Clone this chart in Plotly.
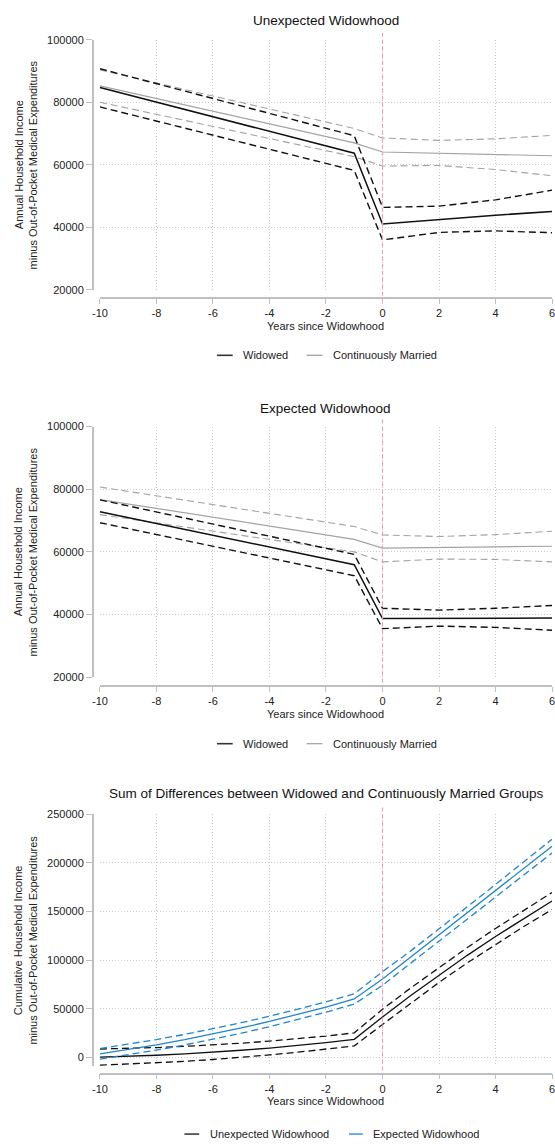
import plotly.graph_objects as go

W, H = 555, 1146

# ---------------- data ----------------
YEARS_P = [-10, -1, 0, 2, 4, 6]

# Panel 1: Unexpected widowhood
U_WID = [84700, 63700, 41100, 42600, 43900, 45100]
U_WID_HI = [90700, 69300, 46400, 46800, 48800, 51900]
U_WID_LO = [78500, 58200, 36000, 38400, 38900, 38300]
U_MAR = [85200, 67000, 64100, 63700, 63300, 62900]
U_MAR_HI = [90300, 71600, 68600, 67800, 68300, 69400]
U_MAR_LO = [80000, 62600, 59600, 59800, 58500, 56500]

# Panel 2: Expected widowhood
E_WID = [72800, 55900, 38700, 38700, 38800, 38900]
E_WID_HI = [76600, 59200, 42000, 41400, 42000, 42900]
E_WID_LO = [69300, 52400, 35500, 36300, 35900, 35000]
E_MAR = [76700, 64000, 61200, 61300, 61600, 61800]
E_MAR_HI = [80700, 68100, 65400, 64900, 65500, 66600]
E_MAR_LO = [71900, 60000, 56800, 57700, 57600, 56800]

# Panel 3: cumulative differences
YEARS_C = [-10, -9, -8, -7, -6, -5, -4, -3, -2, -1, 0, 1, 2, 3, 4, 5, 6]
C_UNEXP = [500, 1300, 2400, 3800, 5500, 7500, 9800, 12400, 15400, 18700, 41700, 63700, 84800, 105000, 124400, 143000, 160800]
C_UNEXP_HI = [8800, 9400, 10300, 11500, 13000, 14800, 16900, 19300, 22100, 25400, 49600, 71500, 92500, 113000, 132600, 151500, 169600]
C_UNEXP_LO = [-7900, -6800, -5500, -3900, -2000, 200, 2700, 5500, 8700, 12000, 34000, 56000, 77200, 97200, 116300, 134600, 152100]
C_EXP = [3900, 8300, 13100, 18400, 24200, 30400, 37100, 44300, 51900, 60200, 80700, 103300, 125900, 148600, 171400, 194200, 217100]
C_EXP_HI = [9300, 13700, 18500, 23800, 29600, 35800, 42400, 49600, 57200, 65400, 88200, 109600, 132000, 154800, 177800, 200900, 224200]
C_EXP_LO = [-1600, 2900, 7700, 13000, 18800, 25000, 31800, 39000, 46600, 54900, 74200, 97000, 119800, 142400, 165000, 187500, 210000]

X_TICKS = [-10, -8, -6, -4, -2, 0, 2, 4, 6]
X_TICK_LABELS = ["-10", "-8", "-6", "-4", "-2", "0", "2", "4", "6"]
Y_TICKS_12 = [20000, 40000, 60000, 80000, 100000]
Y_TICKS_3 = [0, 50000, 100000, 150000, 200000, 250000]

TITLES = ["Unexpected Widowhood", "Expected Widowhood",
          "Sum of Differences between Widowed and Continuously Married Groups"]
YT_A = ["Annual Household Income", "Annual Household Income", "Cumulative Household Income"]
YT_B = "minus Out-of-Pocket Medical Expenditures"
XTITLE = "Years since Widowhood"

# ---------------- styling ----------------
FONT = "Liberation Sans, Arial, sans-serif"
BLACK = "#111111"
GRAY = "#a3a3a3"
BLUE = "#1f86cc"
AXC = "#bfbfbf"
GRIDC = "#cccccc"
PINK = "#e3a3c4"
DASH = "7px,4px"
TXT = "#222222"

def px(x):
    return x / W

def py(y):
    return 1 - y / H

# panel geometry (pixels)
PLOT_L, PLOT_R = 93.3, 552
YAX_X = 86
panels = [
    dict(top=34, bot=287, axis=295, title=15, xt=323, leg=353, vtop=27, yrange=[20000, 100000], ticks=Y_TICKS_12),
    dict(top=425, bot=678.3, axis=687, title=407, xt=715, leg=745.5, vtop=418, yrange=[20000, 100000], ticks=Y_TICKS_12),
    dict(top=816.7, bot=1071, axis=1079, title=796, xt=1107, leg=1140, vtop=810, yrange=[-8435, 250000], ticks=Y_TICKS_3),
]

fig = go.Figure()

def add_line(i, x, y, color, width, dash=None):
    sfx = "" if i == 0 else str(i + 1)
    fig.add_trace(go.Scatter(
        x=x, y=y, mode="lines", xaxis="x" + sfx, yaxis="y" + sfx,
        line=dict(color=color, width=width, dash=dash), showlegend=False, hoverinfo="skip"))

# panel 1
add_line(0, YEARS_P, U_MAR_HI, GRAY, 1.1, DASH)
add_line(0, YEARS_P, U_MAR_LO, GRAY, 1.1, DASH)
add_line(0, YEARS_P, U_MAR, GRAY, 1.2)
add_line(0, YEARS_P, U_WID_HI, BLACK, 1.4, DASH)
add_line(0, YEARS_P, U_WID_LO, BLACK, 1.4, DASH)
add_line(0, YEARS_P, U_WID, BLACK, 1.5)
# panel 2
add_line(1, YEARS_P, E_MAR_HI, GRAY, 1.1, DASH)
add_line(1, YEARS_P, E_MAR_LO, GRAY, 1.1, DASH)
add_line(1, YEARS_P, E_MAR, GRAY, 1.2)
add_line(1, YEARS_P, E_WID_HI, BLACK, 1.4, DASH)
add_line(1, YEARS_P, E_WID_LO, BLACK, 1.4, DASH)
add_line(1, YEARS_P, E_WID, BLACK, 1.5)
# panel 3
add_line(2, YEARS_C, C_UNEXP_HI, BLACK, 1.3, DASH)
add_line(2, YEARS_C, C_UNEXP_LO, BLACK, 1.3, DASH)
add_line(2, YEARS_C, C_UNEXP, BLACK, 1.3)
add_line(2, YEARS_C, C_EXP_HI, BLUE, 1.3, DASH)
add_line(2, YEARS_C, C_EXP_LO, BLUE, 1.3, DASH)
add_line(2, YEARS_C, C_EXP, BLUE, 1.3)

layout = dict(
    width=W, height=H, margin=dict(l=0, r=0, t=0, b=0),
    paper_bgcolor="white", plot_bgcolor="white",
    font=dict(family=FONT, size=11, color=TXT),
    showlegend=False,
)
shapes = []
annotations = []
for i, p in enumerate(panels):
    sfx = "" if i == 0 else str(i + 1)
    layout["xaxis" + sfx] = dict(
        domain=[px(PLOT_L), px(PLOT_R)], range=[-10, 6], anchor="free", position=py(p["axis"]),
        tickvals=X_TICKS, ticktext=X_TICK_LABELS[:-1] + [""], ticks="outside", ticklen=5,
        tickwidth=1.2, tickcolor=AXC,
        showline=True, linecolor=AXC, linewidth=1.5,
        showgrid=True, gridcolor=GRIDC, griddash="1px,2px", gridwidth=1,
        zeroline=False, tickfont=dict(size=11, color=TXT, family=FONT),
        fixedrange=True,
    )
    # last tick label (sits at the very edge of the page, drawn as annotation)
    annotations.append(dict(text=X_TICK_LABELS[-1], xref="x" + sfx, yref="paper",
                            x=X_TICKS[-1], y=py(p["axis"] + 15), xanchor="center",
                            yanchor="middle", showarrow=False,
                            font=dict(size=11, color=TXT, family=FONT)))
    layout["yaxis" + sfx] = dict(
        domain=[py(p["bot"]), py(p["top"])], range=p["yrange"], anchor="free", position=px(YAX_X),
        tickvals=p["ticks"], ticktext=[str(v) for v in p["ticks"]], ticks="outside", ticklen=6,
        tickwidth=1.2, tickcolor=AXC,
        showline=True, linecolor=AXC, linewidth=1.5,
        showgrid=True, gridcolor=GRIDC, griddash="1px,2px", gridwidth=1,
        zeroline=False, tickfont=dict(size=11, color=TXT, family=FONT),
        fixedrange=True,
    )
    # vertical reference line at 0
    shapes.append(dict(type="line", xref="x" + sfx, yref="paper", x0=0, x1=0,
                       y0=py(p["vtop"]), y1=py(p["axis"]),
                       line=dict(color=PINK, width=1.2, dash="4px,3px")))
    # title
    annotations.append(dict(text=TITLES[i], xref="paper", yref="paper",
                            x=px((PLOT_L + PLOT_R) / 2), y=py(p["title"]),
                            xanchor="center", yanchor="middle", showarrow=False,
                            font=dict(size=13.5, color="#111111", family=FONT)))
    # x title
    annotations.append(dict(text=XTITLE, xref="paper", yref="paper",
                            x=px((PLOT_L + PLOT_R) / 2), y=py(p["xt"]),
                            xanchor="center", yanchor="middle", showarrow=False,
                            font=dict(size=11, color=TXT, family=FONT)))
    # y title (two rotated lines)
    yc = (p["top"] + p["bot"]) / 2
    annotations.append(dict(text=YT_A[i], xref="paper", yref="paper",
                            x=px(10.5), y=py(yc), xanchor="center", yanchor="middle",
                            textangle=-90, showarrow=False,
                            font=dict(size=11, color=TXT, family=FONT)))
    annotations.append(dict(text=YT_B, xref="paper", yref="paper",
                            x=px(25), y=py(yc), xanchor="center", yanchor="middle",
                            textangle=-90, showarrow=False,
                            font=dict(size=11, color=TXT, family=FONT)))

# legends (drawn manually)
def legend_item(x0, x1, y, color, label, width):
    shapes.append(dict(type="line", xref="paper", yref="paper", x0=px(x0), x1=px(x1),
                       y0=py(y), y1=py(y), line=dict(color=color, width=width)))
    annotations.append(dict(text=label, xref="paper", yref="paper", x=px(x1 + 8.5), y=py(y),
                            xanchor="left", yanchor="middle", showarrow=False,
                            font=dict(size=11, color=TXT, family=FONT)))

for p in panels[:2]:
    legend_item(212, 228, p["leg"], "#333333", "Widowed", 1.6)
    legend_item(303, 319, p["leg"], GRAY, "Continuously Married", 1.3)
legend_item(179, 194, panels[2]["leg"], BLACK, "Unexpected Widowhood", 1.3)
legend_item(346, 360, panels[2]["leg"], BLUE, "Expected Widowhood", 1.3)

layout["shapes"] = shapes
layout["annotations"] = annotations
fig.update_layout(**layout)
fig.write_html(
    "out.html",
    config={"displayModeBar": False},
    post_script="document.body.style.margin='0';document.body.style.padding='0';"
                "document.body.style.overflow='hidden';",
)
